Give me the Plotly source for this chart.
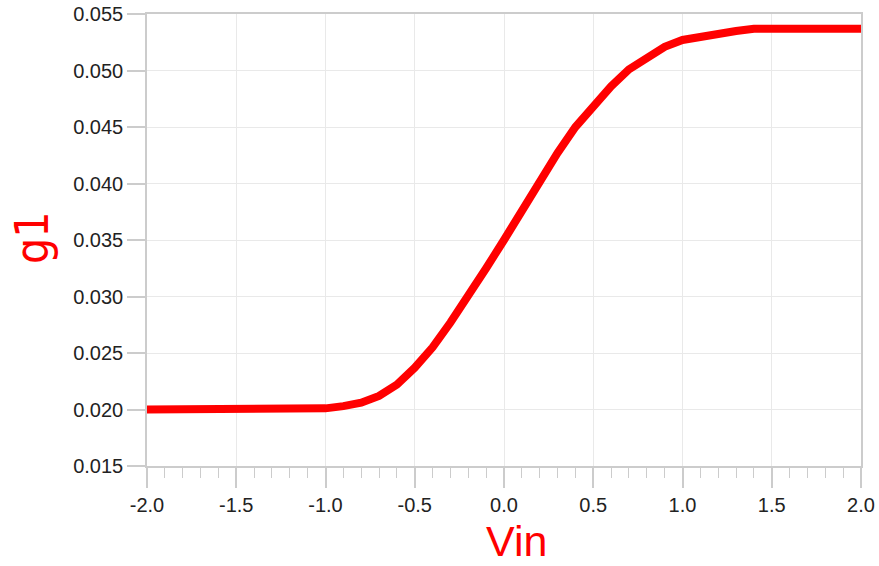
import plotly.graph_objects as go

# Input voltage sweep and the resulting g1 response
vin = [-2.0, -1.9, -1.8, -1.7, -1.6, -1.5, -1.4, -1.3, -1.2, -1.1,
       -1.0, -0.9, -0.8, -0.7, -0.6, -0.5, -0.4, -0.3, -0.2, -0.1,
       0.0, 0.1, 0.2, 0.3, 0.4, 0.5, 0.6, 0.7, 0.8, 0.9,
       1.0, 1.1, 1.2, 1.3, 1.4, 1.5, 1.6, 1.7, 1.8, 1.9, 2.0]
g1 = [0.0200, 0.0200, 0.0200, 0.0200, 0.0200, 0.0200, 0.0200, 0.0200, 0.0200, 0.0200,
      0.0201, 0.0203, 0.0206, 0.0212, 0.0222, 0.0237, 0.0255, 0.0277, 0.0300, 0.0325,
      0.0350, 0.0376, 0.0402, 0.0427, 0.0450, 0.0469, 0.0486, 0.0501, 0.0512, 0.0521,
      0.0527, 0.0530, 0.0533, 0.0535, 0.0537, 0.0537, 0.0537, 0.0537, 0.0537, 0.0537, 0.0537]

x_ticks = [-2.0, -1.5, -1.0, -0.5, 0.0, 0.5, 1.0, 1.5, 2.0]
x_labels = ["-2.0", "-1.5", "-1.0", "-0.5", "0.0", "0.5", "1.0", "1.5", "2.0"]
y_ticks = [0.015, 0.020, 0.025, 0.030, 0.035, 0.040, 0.045, 0.050, 0.055]
y_labels = ["0.015", "0.020", "0.025", "0.030", "0.035", "0.040", "0.045", "0.050", "0.055"]

x_title = "Vin"
y_title = "g1"

fig = go.Figure()
fig.add_trace(go.Scatter(
    x=vin, y=g1, mode="lines",
    line=dict(color="#ff0000", width=8),
    showlegend=False,
))

font_family = "Liberation Sans, Arial, sans-serif"
axis_common = dict(
    showline=True, mirror=True, linecolor="#cccccc", linewidth=1.5,
    showgrid=True, gridcolor="#e9e9e9", gridwidth=1,
    zeroline=False, automargin=False,
    ticks="outside", tickcolor="#cccccc", tickwidth=1.5,
    tickfont=dict(family=font_family, size=20, color="#222222"),
)

fig.update_layout(
    width=879, height=566,
    margin=dict(l=147, r=18, t=14, b=100),
    paper_bgcolor="white", plot_bgcolor="white",
    xaxis=dict(
        **axis_common,
        range=[-2.0, 2.0],
        tickvals=x_ticks, ticktext=x_labels,
        ticklen=20,
        minor=dict(dtick=0.1, ticks="outside", ticklen=10,
                   tickcolor="#cccccc", tickwidth=1, showgrid=False),
    ),
    yaxis=dict(
        **axis_common,
        range=[0.015, 0.055],
        tickvals=y_ticks, ticktext=y_labels,
        ticklen=18,
    ),
)

# Axis titles placed as paper-anchored annotations
fig.add_annotation(
    text=x_title, xref="paper", yref="paper", x=0.518, y=-0.166,
    xanchor="center", yanchor="middle", showarrow=False,
    font=dict(family=font_family, size=43, color="#ff0000"),
)
fig.add_annotation(
    text=y_title, xref="paper", yref="paper", x=-0.16, y=0.506,
    xanchor="center", yanchor="middle", showarrow=False, textangle=-90,
    font=dict(family="Liberation Sans Narrow, DejaVu Sans Condensed, Liberation Sans, sans-serif",
              size=46, color="#ff0000"),
)

fig.write_html("out.html")
